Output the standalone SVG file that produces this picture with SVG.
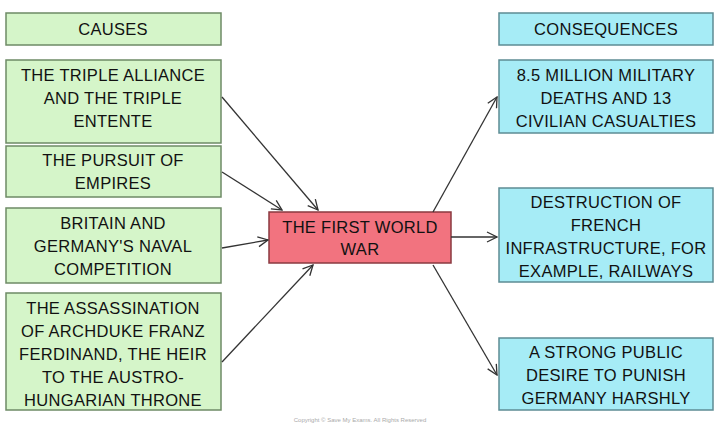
<svg xmlns="http://www.w3.org/2000/svg" width="720" height="428" viewBox="0 0 720 428">
<style>
.g{fill:#d5f5c9;stroke:#6e8a66;stroke-width:1.5}
.b{fill:#a6ecf6;stroke:#5d8c94;stroke-width:1.5}
.r{fill:#f2737f;stroke:#8a3a40;stroke-width:1.5}
text{font-family:"Liberation Sans",Arial,sans-serif;font-size:16.5px;fill:#111;text-anchor:middle;letter-spacing:0.3px}
.c line{stroke:#333;stroke-width:1.3;marker-end:url(#a)}
</style>
<defs><marker id="a" viewBox="0 0 12 12" refX="11" refY="6" markerWidth="12" markerHeight="12" markerUnits="userSpaceOnUse" orient="auto"><path d="M1,1 L11,6 L1,11" fill="none" stroke="#333" stroke-width="1.3"/></marker></defs>
<rect width="720" height="428" fill="#fff"/>
<g id="causes"><rect class="g" x="6" y="13" width="215" height="32"/><text x="113" y="35">CAUSES</text></g>
<g id="c1"><rect class="g" x="6" y="60" width="215" height="83"/><text x="113" y="81">THE TRIPLE ALLIANCE</text><text x="113" y="104">AND THE TRIPLE</text><text x="113" y="127">ENTENTE</text></g>
<g id="c2"><rect class="g" x="6" y="146" width="215" height="51"/><text x="113" y="166">THE PURSUIT OF</text><text x="113" y="189">EMPIRES</text></g>
<g id="c3"><rect class="g" x="6" y="208" width="215" height="75"/><text x="113" y="229">BRITAIN AND</text><text x="113" y="252">GERMANY'S NAVAL</text><text x="113" y="275">COMPETITION</text></g>
<g id="c4"><rect class="g" x="6" y="293" width="215" height="117"/><text x="113" y="314">THE ASSASSINATION</text><text x="113" y="337">OF ARCHDUKE FRANZ</text><text x="113" y="360">FERDINAND, THE HEIR</text><text x="113" y="383">TO THE AUSTRO-</text><text x="113" y="406">HUNGARIAN THRONE</text></g>
<g id="war"><rect class="r" x="269" y="212" width="182" height="51"/><text x="360" y="233">THE FIRST WORLD</text><text x="360" y="255">WAR</text></g>
<g id="consequences"><rect class="b" x="499" y="13" width="214" height="32"/><text x="606" y="35">CONSEQUENCES</text></g>
<g id="k1"><rect class="b" x="499" y="60" width="214" height="73"/><text x="606" y="81">8.5 MILLION MILITARY</text><text x="606" y="104">DEATHS AND 13</text><text x="606" y="127">CIVILIAN CASUALTIES</text></g>
<g id="k2"><rect class="b" x="499" y="188" width="214" height="94"/><text x="606" y="208">DESTRUCTION OF</text><text x="606" y="231">FRENCH</text><text x="606" y="254">INFRASTRUCTURE, FOR</text><text x="606" y="277">EXAMPLE, RAILWAYS</text></g>
<g id="k3"><rect class="b" x="499" y="338" width="214" height="72"/><text x="606" y="358">A STRONG PUBLIC</text><text x="606" y="381">DESIRE TO PUNISH</text><text x="606" y="404">GERMANY HARSHLY</text></g>
<g class="c" id="connectors">
<line x1="222" y1="97" x2="318" y2="210"/>
<line x1="222" y1="172" x2="282" y2="210"/>
<line x1="222" y1="248" x2="268" y2="240"/>
<line x1="222" y1="362" x2="313" y2="265"/>
<line x1="433" y1="212" x2="497" y2="97"/>
<line x1="451" y1="237" x2="497" y2="237"/>
<line x1="433" y1="265" x2="497" y2="375"/>
</g>
<text x="360" y="422" style="font-size:6px;fill:#aaa;letter-spacing:0">Copyright © Save My Exams. All Rights Reserved</text>
</svg>
